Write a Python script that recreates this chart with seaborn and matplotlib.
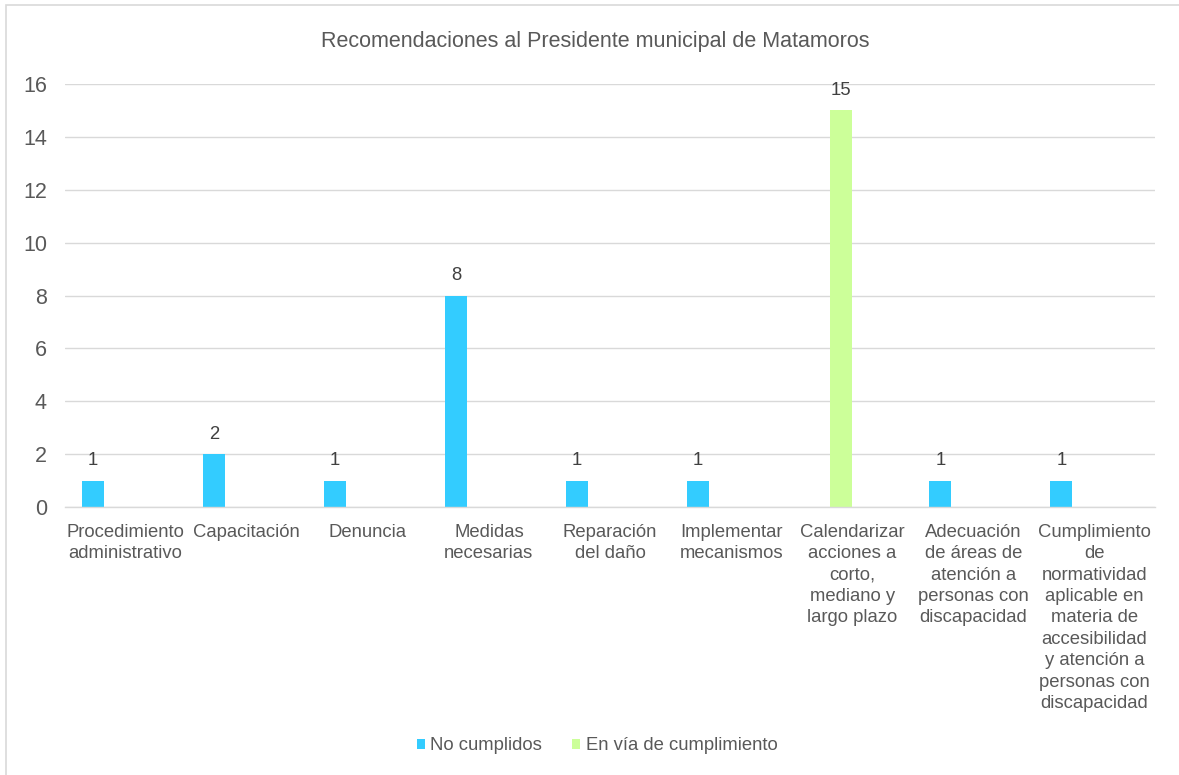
import matplotlib
matplotlib.use("Agg")
import matplotlib.pyplot as plt
from matplotlib.patches import Patch, Rectangle
import seaborn as sns
import pandas as pd

# Categories (wrapped as they appear under the axis)
categories = [
    "Procedimiento\nadministrativo",
    "Capacitación",
    "Denuncia",
    "Medidas\nnecesarias",
    "Reparación\ndel daño",
    "Implementar\nmecanismos",
    "Calendarizar\nacciones a\ncorto,\nmediano y\nlargo plazo",
    "Adecuación\nde áreas de\natención a\npersonas con\ndiscapacidad",
    "Cumplimiento\nde\nnormatividad\naplicable en\nmateria de\naccesibilidad\ny atención a\npersonas con\ndiscapacidad",
]

# Series values (None = no recommendation in that status)
no_cumplidos = [1, 2, 1, 8, 1, 1, None, 1, 1]
en_via = [None, None, None, None, None, None, 15, None, None]
cumplidos = [None] * 9
sin_respuesta = [None] * 9

series_names = ["No cumplidos", "En vía de cumplimiento", "Cumplidos", "Sin respuesta"]
series_values = [no_cumplidos, en_via, cumplidos, sin_respuesta]
shown_series = ["No cumplidos", "En vía de cumplimiento"]

title = "Recomendaciones al Presidente municipal de Matamoros"
y_ticks = [0, 2, 4, 6, 8, 10, 12, 14, 16]

rows = []
for name, vals in zip(series_names, series_values):
    for cat, v in zip(categories, vals):
        if v is not None:
            rows.append({"categoria": cat, "estado": name, "valor": v})
df = pd.DataFrame(rows)

palette = {
    "No cumplidos": "#33CCFF",
    "En vía de cumplimiento": "#CCFF99",
    "Cumplidos": "#A5A5A5",
    "Sin respuesta": "#FFC000",
}

sns.set_style("white")
plt.rcParams["font.family"] = ["Liberation Sans", "DejaVu Sans"]
text_color = "#595959"
grid_color = "#D9D9D9"
fs = 13.3

W, H = 1179, 775
fig = plt.figure(figsize=(W / 100, H / 100), dpi=100)
ax = fig.add_axes([65 / W, 1 - 507 / H, (1155 - 65) / W, (507 - 84) / H])

sns.barplot(
    data=df, x="categoria", y="valor", hue="estado",
    order=categories, hue_order=series_names, palette=palette,
    width=0.726, dodge=True, errorbar=None, legend=False, ax=ax,
    saturation=1, linewidth=0,
)

for cont in ax.containers:
    ax.bar_label(cont, fmt="%g", padding=8, fontsize=fs, color="#404040")

ax.set_ylim(0, 16)
ax.set_yticks(y_ticks)
ax.set_xlim(-0.5, len(categories) - 0.5)
ax.set_xlabel("")
ax.set_ylabel("")
ax.yaxis.grid(True, color=grid_color, linewidth=1.0)
ax.set_axisbelow(True)
for side in ["top", "right", "left"]:
    ax.spines[side].set_visible(False)
ax.spines["bottom"].set_color(grid_color)
ax.spines["bottom"].set_linewidth(1.0)
ax.tick_params(axis="both", length=0, colors=text_color)
ax.tick_params(axis="x", labelsize=fs, pad=12)
ax.tick_params(axis="y", labelsize=15.5, pad=13)
for lbl in ax.get_xticklabels():
    lbl.set_linespacing(1.34)
    lbl.set_horizontalalignment("center")

fig.text(595 / W, 1 - 42 / H, title, ha="center", va="center",
         fontsize=15.5, color=text_color)

handles = [Patch(facecolor=palette[n], edgecolor="none") for n in shown_series]
fig.legend(handles, shown_series, loc="center", bbox_to_anchor=(597 / W, 1 - 746 / H),
           ncol=2, frameon=False, fontsize=fs, labelcolor=text_color,
           handlelength=0.45, handleheight=0.45, handletextpad=0.3,
           columnspacing=1.6)

# Chart area border
fig.add_artist(Rectangle((5.5 / W, -0.1), 1.2, 1.1 - 5.5 / H,
                         transform=fig.transFigure, fill=False,
                         edgecolor=grid_color, linewidth=1.2))

fig.savefig("out.png", dpi=100, facecolor="white")
